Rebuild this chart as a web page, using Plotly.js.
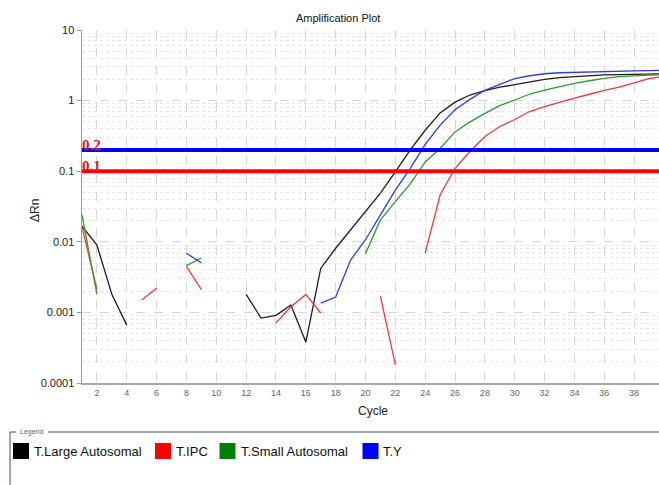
<!DOCTYPE html>
<html><head><meta charset="utf-8">
<script src="https://cdn.plot.ly/plotly-3.0.1.min.js"></script>
<style>html,body{margin:0;padding:0;background:#fff}#chart{width:659px;height:485px}</style>
</head><body><div id="chart"></div>
<script>
// ---- data ----
const cycles = [1,2,3,4,5,6,7,8,9,10,11,12,13,14,15,16,17,18,19,20,21,22,23,24,25,26,27,28,29,30,31,32,33,34,35,36,37,38,39,40];
const largeAutosomal = [0.0167,0.009,0.0018,0.00066,null,null,null,null,null,null,null,0.0018,0.00083,0.00091,0.00127,0.00038,0.0042,0.0081,0.0147,0.026,0.049,0.098,0.2,0.38,0.67,0.95,1.2,1.38,1.55,1.68,1.85,2.0,2.11,2.18,2.25,2.31,2.33,2.36,2.38,2.4];
const ipc = [0.0164,0.0021,null,null,0.0015,0.0022,null,0.0045,0.0021,null,null,null,null,0.00071,0.0012,0.0018,0.00098,null,null,null,0.0017,0.00018,null,0.0069,0.046,0.11,0.19,0.31,0.43,0.54,0.70,0.82,0.93,1.08,1.23,1.4,1.55,1.8,2.05,2.2];
const smallAutosomal = [0.024,0.0018,null,null,null,null,null,0.0046,0.0059,null,null,null,null,null,null,null,null,null,null,0.0068,0.0204,0.037,0.066,0.135,0.21,0.36,0.50,0.66,0.85,1.02,1.24,1.41,1.57,1.76,1.91,2.07,2.18,2.26,2.3,2.33];
const yChrom = [null,null,null,null,null,null,null,0.0069,0.005,null,null,null,null,null,null,null,0.00135,0.00165,0.0055,0.0107,0.024,0.054,0.11,0.24,0.45,0.74,1.04,1.4,1.7,2.05,2.25,2.4,2.48,2.52,2.55,2.58,2.6,2.63,2.66,2.68];
const seriesNames = ['T.Large Autosomal','T.IPC','T.Small Autosomal','T.Y'];
const thresholdValues = [0.2, 0.1];
const thresholdLabels = ['0.2', '0.1'];
const yTickVals = [0.0001, 0.001, 0.01, 0.1, 1, 10];
const yTickText = ['0.0001', '0.001', '0.01', '0.1', '1', '10'];
const xTickVals = [2,4,6,8,10,12,14,16,18,20,22,24,26,28,30,32,34,36,38];
const xTickText = ['2','4','6','8','10','12','14','16','18','20','22','24','26','28','30','32','34','36','38'];

// ---- styles ----
const lineColors = ['#1c1c1c', '#ec3a3a', '#2f9a36', '#2f3bef'];
const legendColors = ['#000000', '#ff0000', '#008000', '#0000ff'];
const thresholdColors = ['#0000ff', '#ff0000'];
const W = 659, H = 485, L = 82, R = 0, T = 30, B = 102;
const pw = W - L - R, ph = H - T - B;
const px = x => (x - L) / pw;
const py = y => (H - B - y) / ph;

const seriesData = [largeAutosomal, ipc, smallAutosomal, yChrom];
const traces = [];
seriesData.forEach((s, i) => {
  traces.push({x: cycles, y: s, type: 'scatter', mode: 'lines', connectgaps: false,
    line: {color: lineColors[i], width: 1.3}, name: seriesNames[i], hoverinfo: 'skip', showlegend: false});
});
thresholdValues.forEach((v, i) => {
  traces.push({x: [cycles[0], cycles[cycles.length - 1]], y: [v, v], type: 'scatter', mode: 'lines',
    line: {color: thresholdColors[i], width: 4}, hoverinfo: 'skip', showlegend: false});
});

// minor log gridlines
const minorVals = [];
for (let d = -4; d < 1; d++) for (let k = 2; k <= 9; k++) minorVals.push(k * Math.pow(10, d));

const annotations = [
  {text: 'Amplification Plot', xref: 'paper', yref: 'paper', x: px(338), y: py(18), xanchor: 'center', yanchor: 'middle', showarrow: false,
   font: {family: 'Liberation Sans, Arial, sans-serif', size: 11, color: '#111'}},
  {text: 'ΔRn', xref: 'paper', yref: 'paper', x: px(35), y: py(210), xanchor: 'center', yanchor: 'middle', textangle: -90, showarrow: false,
   font: {family: 'Liberation Sans, Arial, sans-serif', size: 12, color: '#222'}},
  {text: 'Cycle', xref: 'paper', yref: 'paper', x: px(373), y: py(411), xanchor: 'center', yanchor: 'middle', showarrow: false,
   font: {family: 'Liberation Sans, Arial, sans-serif', size: 12, color: '#222'}},
  {text: 'Legend', xref: 'paper', yref: 'paper', x: px(18), y: py(432), xanchor: 'left', yanchor: 'middle', showarrow: false,
   font: {family: 'Liberation Sans, Arial, sans-serif', size: 7, color: '#4a6a8a'}}
];
thresholdValues.forEach((v, i) => {
  annotations.push({text: '<b>' + thresholdLabels[i] + '</b>', xref: 'x', yref: 'y', x: cycles[0], y: Math.log10(v),
    xanchor: 'left', yanchor: 'bottom', yshift: -5, xshift: -2, showarrow: false,
    font: {family: 'Liberation Serif, DejaVu Serif, serif', size: 15, color: '#d42020'}});
});

const shapes = [
  {type: 'line', xref: 'paper', yref: 'paper', x0: px(10), x1: px(16), y0: py(432), y1: py(432), line: {color: '#3f5060', width: 1}},
  {type: 'line', xref: 'paper', yref: 'paper', x0: px(48), x1: px(W), y0: py(432), y1: py(432), line: {color: '#3f5060', width: 1}},
  {type: 'line', xref: 'paper', yref: 'paper', x0: px(10), x1: px(10), y0: py(432), y1: py(H), line: {color: '#3f5060', width: 1}}
];
const legendSquareX = [13, 155, 219.5, 362.5];
const legendTextX = [31.5, 174, 238.5, 381];
seriesNames.forEach((n, i) => {
  shapes.push({type: 'rect', xref: 'paper', yref: 'paper', x0: px(legendSquareX[i]), x1: px(legendSquareX[i] + 16),
    y0: py(443), y1: py(459), fillcolor: legendColors[i], line: {width: 0}});
  annotations.push({text: n, xref: 'paper', yref: 'paper', x: px(legendTextX[i]), y: py(451), xanchor: 'left', yanchor: 'middle',
    showarrow: false, font: {family: 'Liberation Sans, Arial, sans-serif', size: 13, color: '#111'}});
});

const layout = {
  width: W, height: H,
  margin: {l: L, r: R, t: T, b: B, pad: 0},
  paper_bgcolor: '#ffffff', plot_bgcolor: '#ffffff',
  showlegend: false,
  xaxis: {range: [1, 39.67], tickmode: 'array', tickvals: xTickVals, ticktext: xTickText,
    showline: true, linecolor: '#a8a8a8', linewidth: 2, ticks: '', zeroline: false,
    showgrid: true, gridcolor: '#d6d6d6', griddash: 'dash', gridwidth: 1,
    tickfont: {family: 'Liberation Sans, Arial, sans-serif', size: 9, color: '#666'}},
  yaxis: {type: 'log', range: [-4, 1], tickmode: 'array', tickvals: yTickVals, ticktext: yTickText,
    showline: true, linecolor: '#9a9a9a', linewidth: 1.5, ticks: 'outside', ticklen: 4, tickcolor: '#9a9a9a', zeroline: false,
    showgrid: true, gridcolor: '#d6d6d6', griddash: 'dash', gridwidth: 1,
    minor: {tickmode: 'array', tickvals: minorVals, showgrid: true, gridcolor: '#e6e6e6', griddash: 'dot', ticks: ''},
    tickfont: {family: 'Liberation Sans, Arial, sans-serif', size: 11, color: '#222'}},
  annotations: annotations,
  shapes: shapes
};

Plotly.newPlot('chart', traces, layout, {displayModeBar: false, staticPlot: true});
</script>
</body></html>
